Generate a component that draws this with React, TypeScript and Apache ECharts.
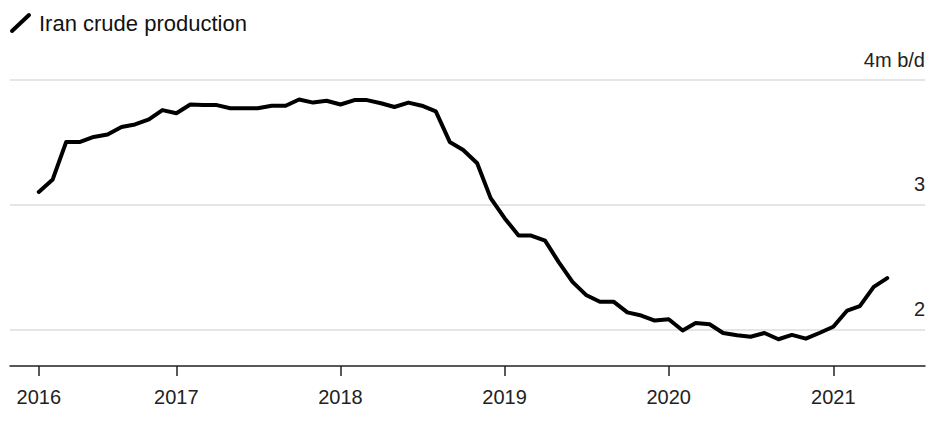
import React, { useEffect, useRef } from 'react';
import * as echarts from 'echarts';

const months = [
  '2016-02', '2016-03', '2016-04', '2016-05', '2016-06', '2016-07', '2016-08', '2016-09', '2016-10', '2016-11', '2016-12',
  '2017-01', '2017-02', '2017-03', '2017-04', '2017-05', '2017-06', '2017-07', '2017-08', '2017-09', '2017-10', '2017-11', '2017-12',
  '2018-01', '2018-02', '2018-03', '2018-04', '2018-05', '2018-06', '2018-07', '2018-08', '2018-09', '2018-10', '2018-11', '2018-12',
  '2019-01', '2019-02', '2019-03', '2019-04', '2019-05', '2019-06', '2019-07', '2019-08', '2019-09', '2019-10', '2019-11', '2019-12',
  '2020-01', '2020-02', '2020-03', '2020-04', '2020-05', '2020-06', '2020-07', '2020-08', '2020-09', '2020-10', '2020-11', '2020-12',
  '2021-01', '2021-02', '2021-03', '2021-04',
];

// million barrels per day
const production = [
  3.10, 3.20, 3.50, 3.50, 3.54, 3.56, 3.62, 3.64, 3.68, 3.755, 3.73,
  3.80, 3.795, 3.795, 3.77, 3.77, 3.77, 3.79, 3.79, 3.84, 3.815, 3.83, 3.80,
  3.835, 3.835, 3.81, 3.78, 3.815, 3.79, 3.745, 3.50, 3.435, 3.33, 3.05, 2.89,
  2.75, 2.75, 2.71, 2.54, 2.38, 2.275, 2.22, 2.22, 2.135, 2.11, 2.07, 2.08,
  1.99, 2.05, 2.04, 1.97, 1.953, 1.94, 1.97, 1.92, 1.955, 1.925, 1.97, 2.02,
  2.15, 2.185, 2.34, 2.41,
];

const yTickValues = [2, 3, 4];
const xTickDates = ['2016-03-01', '2017-01-01', '2018-01-01', '2019-01-01', '2020-01-01', '2021-01-01'];
const legendLabel = 'Iran crude production';
const unitLabel = '4m b/d';

const FONT = '"Liberation Sans", Arial, Helvetica, sans-serif';

// monthly value plotted at the end of its month
function monthEnd(m: string): number {
  const [y, mo] = m.split('-').map(Number);
  return Date.UTC(y, mo, 1);
}
function parseDate(d: string): number {
  const [y, mo, day] = d.split('-').map(Number);
  return Date.UTC(y, mo - 1, day);
}

export default function App() {
  const ref = useRef<HTMLDivElement>(null);

  useEffect(() => {
    if (!ref.current) return;
    const chart = echarts.init(ref.current, undefined, { renderer: 'svg' });
    const xTicks = xTickDates.map(parseDate);
    const data = months.map((m, i) => [monthEnd(m), production[i]]);

    chart.setOption({
      animation: false,
      grid: { left: 10, right: 22, top: 79.5, bottom: 60, containLabel: false, outerBoundsMode: 'none' },
      xAxis: {
        type: 'value',
        min: Date.UTC(2015, 11, 28),
        max: Date.UTC(2021, 6, 24),
        axisLine: { show: true, lineStyle: { color: '#222', width: 1.5 } },
        axisTick: { show: true, length: 10, customValues: xTicks, lineStyle: { color: '#222', width: 1.5 } },
        axisLabel: {
          customValues: xTicks,
          formatter: (v: number) => String(new Date(v).getUTCFullYear()),
          fontSize: 20,
          lineHeight: 20,
          color: '#222',
          fontFamily: FONT,
          margin: 21,
          hideOverlap: false,
        },
        splitLine: { show: false },
      },
      yAxis: {
        type: 'value',
        position: 'right',
        min: 1.706,
        max: 4,
        axisLine: { show: false },
        axisTick: { show: false, customValues: yTickValues },
        axisLabel: {
          customValues: yTickValues,
          inside: true,
          margin: 0,
          formatter: (v: number) => (v === 4 ? unitLabel : String(v)),
          fontSize: 20,
          lineHeight: 20,
          color: '#222',
          fontFamily: FONT,
          verticalAlign: 'bottom',
          padding: [0, 0, 10, 0],
        },
        splitLine: { show: true, lineStyle: { color: '#dcdcdc', width: 1.5 } },
      },
      graphic: [
        {
          type: 'line',
          shape: { x1: 12, y1: 31, x2: 29, y2: 15 },
          style: { stroke: '#000', lineWidth: 4, lineCap: 'round' },
        },
        {
          type: 'text',
          x: 39,
          y: 23.5,
          style: { text: legendLabel, fontSize: 22, fill: '#111', fontFamily: FONT, verticalAlign: 'middle', align: 'left' },
        },
      ],
      series: [
        {
          type: 'line',
          data,
          showSymbol: false,
          symbol: 'none',
          lineStyle: { color: '#000', width: 4, join: 'round', cap: 'round' },
        },
      ],
    });

    return () => chart.dispose();
  }, []);

  return <div ref={ref} style={{ position: 'absolute', left: 0, top: 0, width: 947, height: 426 }} />;
}
